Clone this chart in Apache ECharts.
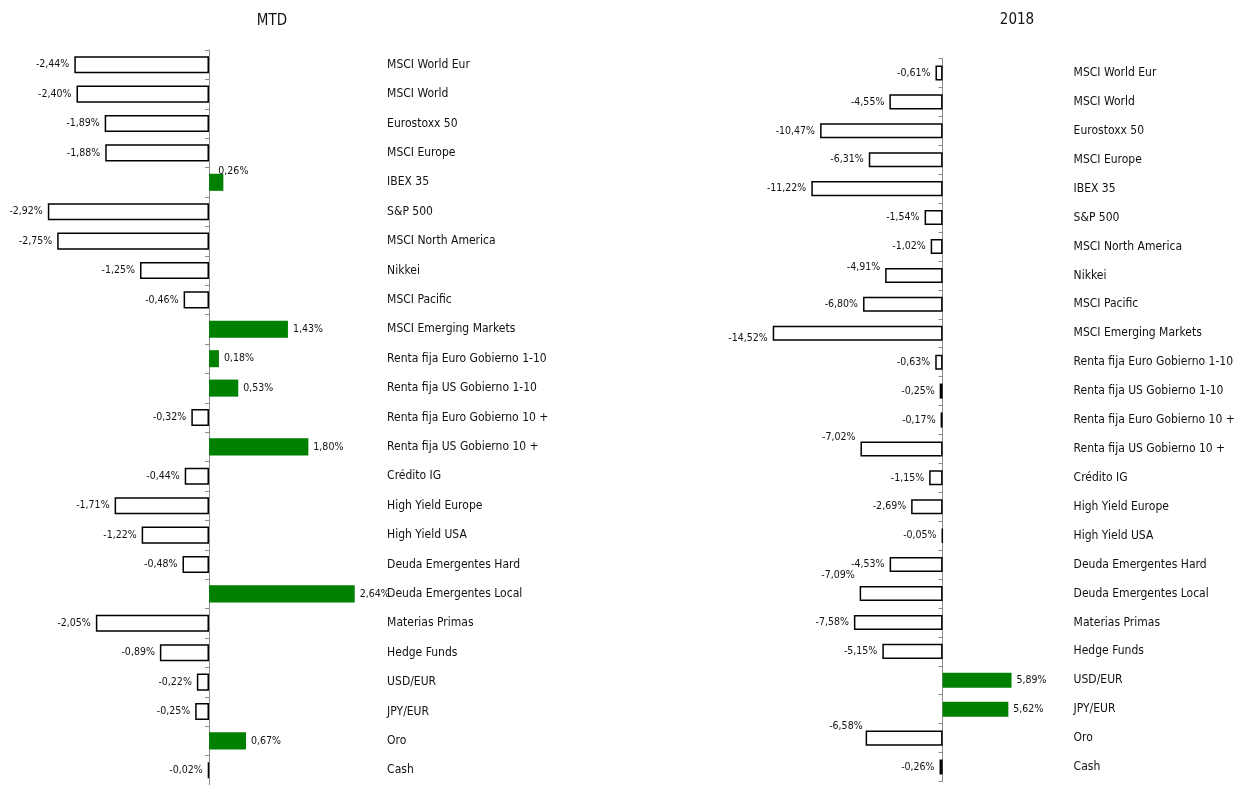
<!DOCTYPE html>
<html>
<head>
<meta charset="utf-8">
<script src="https://cdn.jsdelivr.net/npm/echarts@6/dist/echarts.min.js"></script>
<style>
html,body{margin:0;padding:0;background:#fff;}
#chart{width:1245px;height:785px;}
</style>
</head>
<body>
<div id="chart"></div>
<script>
// ---------- DATA ----------
const categories = [
  'MSCI World Eur', 'MSCI World', 'Eurostoxx 50', 'MSCI Europe', 'IBEX 35',
  'S&P 500', 'MSCI North America', 'Nikkei', 'MSCI Pacific', 'MSCI Emerging Markets',
  'Renta fija Euro Gobierno 1-10', 'Renta fija US Gobierno 1-10',
  'Renta fija Euro Gobierno 10 +', 'Renta fija US Gobierno 10 +',
  'Crédito IG', 'High Yield Europe', 'High Yield USA', 'Deuda Emergentes Hard',
  'Deuda Emergentes Local', 'Materias Primas', 'Hedge Funds', 'USD/EUR', 'JPY/EUR',
  'Oro', 'Cash'
];
const mtdValues = [
  -2.44, -2.40, -1.89, -1.88, 0.26,
  -2.92, -2.75, -1.25, -0.46, 1.43,
  0.18, 0.53,
  -0.32, 1.80,
  -0.44, -1.71, -1.22, -0.48,
  2.64, -2.05, -0.89, -0.22, -0.25,
  0.67, -0.02
];
const ytdValues = [
  -0.61, -4.55, -10.47, -6.31, -11.22,
  -1.54, -1.02, -4.91, -6.80, -14.52,
  -0.63, -0.25,
  -0.17, -7.02,
  -1.15, -2.69, -0.05, -4.53,
  -7.09, -7.58, -5.15, 5.89, 5.62,
  -6.58, -0.26
];
const chartTitles = ['MTD', '2018'];

// ---------- STYLE ----------
const FONT = '"DejaVu Sans Condensed", "DejaVu Sans", sans-serif';
const GREEN = '#008000';
// label nudges (style only), keyed by category
const mtdLabelShift = { 'IBEX 35': [-10, -11] };
const ytdLabelShift = {
  'Nikkei': [0, -8],
  'MSCI Emerging Markets': [0, 5],
  'Renta fija US Gobierno 10 +': [0, -12],
  'Deuda Emergentes Local': [0, -18],
  'Oro': [2, -12]
};

function fmt(v) { return v.toFixed(2).replace('.', ',') + '%'; }

function buildData(values, shifts) {
  return values.map((v, i) => {
    const s = shifts[categories[i]] || [0, 0];
    return {
      value: v,
      itemStyle: v < 0
        ? { color: '#ffffff', borderColor: '#000000', borderWidth: 1.5 }
        : { color: GREEN, borderColor: GREEN, borderWidth: 0 },
      label: {
        position: v < 0 ? 'left' : 'right',
        offset: s
      }
    };
  });
}

// geometry per panel
const panels = [
  { values: mtdValues, shifts: mtdLabelShift, min: -3.5, max: 3.1, zeroX: 209, k: 55.2,
    top: 50, height: 735, labelMargin: 7, gap: '42%', titleX: 267, titleY: 9 },
  { values: ytdValues, shifts: ytdLabelShift, min: -16, max: 10, zeroX: 942.6, k: 11.7,
    top: 58.5, height: 723, labelMargin: 14, gap: '48%', titleX: 1012, titleY: 8 }
];

const grid = [], xAxis = [], yAxis = [], series = [], title = [];
panels.forEach((p, i) => {
  const left = p.zeroX + p.min * p.k;
  const width = (p.max - p.min) * p.k;
  grid.push({ left: left, top: p.top, width: width, height: p.height, containLabel: false });
  xAxis.push({
    type: 'value', gridIndex: i, min: p.min, max: p.max,
    show: false, splitLine: { show: false }
  });
  yAxis.push({
    type: 'category', gridIndex: i, data: categories, inverse: true,
    axisLine: { show: true, onZero: true, lineStyle: { color: '#8c8c8c', width: 1 } },
    axisTick: { show: true, length: 4, lineStyle: { color: '#8c8c8c' } },
    axisLabel: { show: false },
    splitLine: { show: false }
  });
  yAxis.push({
    type: 'category', gridIndex: i, data: categories, inverse: true, position: 'right',
    axisLine: { show: false }, axisTick: { show: false },
    axisLabel: { show: true, margin: p.labelMargin, align: 'left', color: '#111',
      fontFamily: FONT, fontSize: 12, interval: 0 },
    splitLine: { show: false }
  });
  series.push({
    type: 'bar', xAxisIndex: i, yAxisIndex: i * 2,
    data: buildData(p.values, p.shifts),
    barCategoryGap: p.gap,
    animation: false,
    label: {
      show: true, distance: 5, color: '#111', fontFamily: FONT, fontSize: 10.5,
      formatter: (d) => fmt(d.value)
    }
  });
  title.push({
    text: chartTitles[i], left: p.titleX, top: p.titleY, textAlign: 'center',
    textStyle: { fontFamily: FONT, fontSize: 15, fontWeight: 'normal', color: '#111' }
  });
});

const chart = echarts.init(document.getElementById('chart'), null, { renderer: 'canvas' });
chart.setOption({
  backgroundColor: '#ffffff',
  animation: false,
  title: title,
  grid: grid,
  xAxis: xAxis,
  yAxis: yAxis,
  series: series
});
</script>
</body>
</html>
